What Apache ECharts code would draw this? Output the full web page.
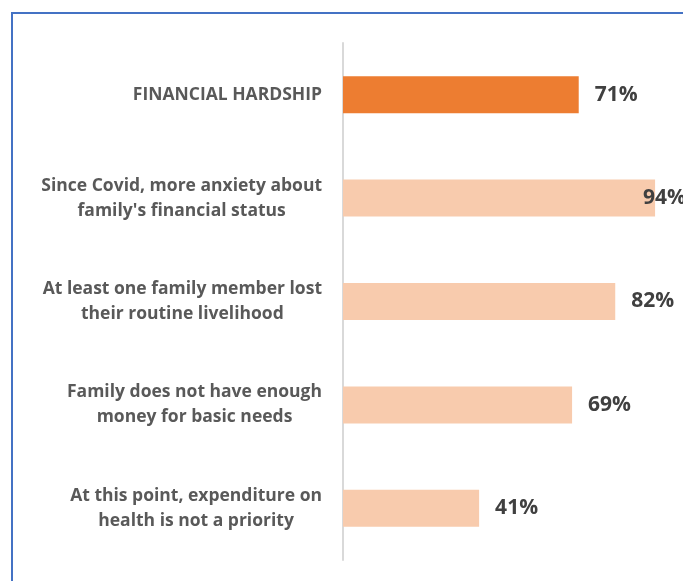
<!DOCTYPE html>
<html>
<head>
<meta charset="utf-8">
<script src="https://cdn.jsdelivr.net/npm/echarts@6/dist/echarts.min.js"></script>
<style>
  html, body { margin: 0; padding: 0; background: #ffffff; }
  #chart { width: 683px; height: 581px; }
</style>
</head>
<body>
<div id="chart"></div>
<script>
// Survey items, top to bottom
var categories = [
  'FINANCIAL HARDSHIP',
  "Since Covid, more anxiety about\nfamily's financial status",
  'At least one family member lost\ntheir routine livelihood',
  'Family does not have enough\nmoney for basic needs',
  'At this point, expenditure on\nhealth is not a priority'
];
// Share of respondents (%)
var values = [71, 94, 82, 69, 41];
// The first row is the headline figure
var headlineIndex = 0;

var FONT = '"Open Sans", Lato, sans-serif';

var chart = echarts.init(document.getElementById('chart'));

var seriesData = values.map(function (v, i) {
  var item = {
    value: v,
    itemStyle: { color: i === headlineIndex ? '#ED7D31' : '#F8CBAD' }
  };
  // the longest bar keeps its label tucked against the panel edge
  if (v === Math.max.apply(null, values)) {
    item.label = { offset: [-28, 0] };
  }
  return item;
});

chart.setOption({
  animation: false,
  backgroundColor: '#ffffff',
  grid: { left: 343, right: 8, top: 43, bottom: 21, containLabel: false },
  xAxis: {
    type: 'value',
    min: 0,
    max: 100,
    show: false
  },
  yAxis: {
    type: 'category',
    inverse: true,
    data: categories,
    axisLine: { show: true, lineStyle: { color: '#D9D9D9', width: 2 } },
    axisTick: { show: false },
    splitLine: { show: false },
    axisLabel: {
      margin: 21,
      align: 'right',
      formatter: function (txt) {
        return txt.split('\n').map(function (l) { return '{c|' + l + '}'; }).join('\n');
      },
      rich: {
        c: {
          align: 'center',
          fontFamily: FONT,
          fontWeight: 'bold',
          fontSize: 17.5,
          lineHeight: 25,
          color: '#595959'
        }
      }
    }
  },
  series: [{
    type: 'bar',
    data: seriesData,
    barWidth: 37,
    label: {
      show: true,
      position: 'right',
      distance: 16,
      formatter: '{c}%',
      fontFamily: FONT,
      fontWeight: 'bold',
      fontSize: 21,
      color: '#404040'
    }
  }],
  graphic: [{
    type: 'polyline',
    silent: true,
    shape: { points: [[12, 581], [12, 13], [683, 13]] },
    style: { stroke: '#4472C4', lineWidth: 2, fill: null }
  }]
});
</script>
</body>
</html>
